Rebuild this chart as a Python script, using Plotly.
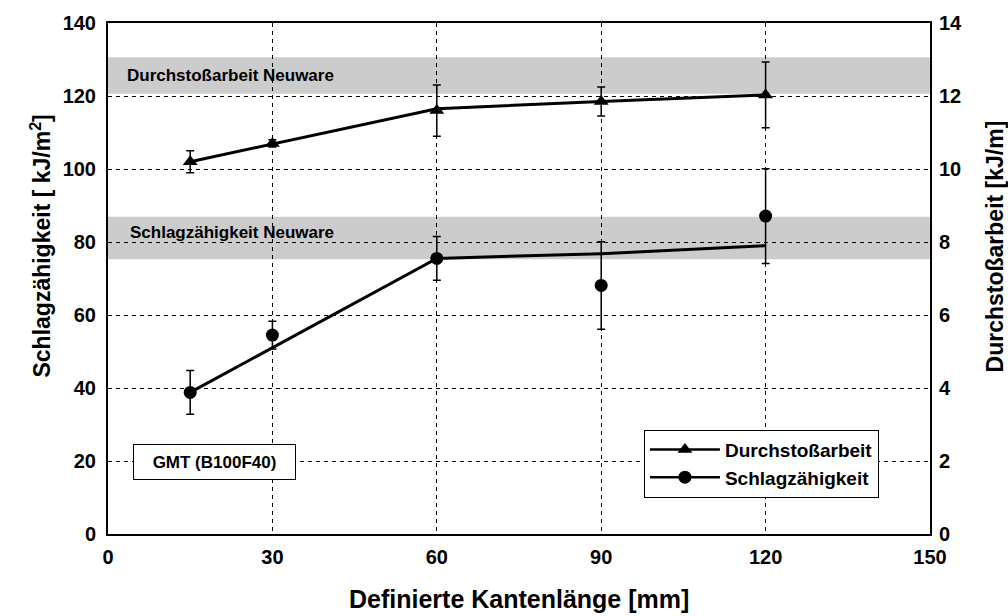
import plotly.graph_objects as go

# Edge length categories [mm]
kantenlaenge = [15, 30, 60, 90, 120]

# Impact strength [kJ/m^2] (left axis) with scatter
schlag_mittel = [38.8, 54.5, 75.5, 68.1, 87.1]
schlag_fehler = [6.0, 3.8, 6.0, 12.0, 13.0]
schlag_trend = [38.8, 51.0, 75.5, 76.8, 79.0]

# Puncture energy [kJ/m] (right axis) with scatter
durchstoss_mittel = [10.2, 10.7, 11.6, 11.85, 12.03]
durchstoss_fehler = [0.3, 0.1, 0.7, 0.4, 0.9]
durchstoss_trend = [10.2, 10.68, 11.65, 11.85, 12.03]

# Reference ranges for virgin material (in left-axis units)
band_durchstoss = [120.6, 130.6]
band_schlag = [75.3, 86.9]

x_ticks = [0, 30, 60, 90, 120, 150]
y_ticks = [0, 20, 40, 60, 80, 100, 120, 140]
y2_ticks = [0, 2, 4, 6, 8, 10, 12, 14]

FONT = "Liberation Sans"
BLACK = "#000000"

fig = go.Figure()

# Trend lines
fig.add_trace(go.Scatter(
    x=kantenlaenge, y=schlag_trend, mode="lines",
    line=dict(color=BLACK, width=3), showlegend=False, hoverinfo="skip",
))
fig.add_trace(go.Scatter(
    x=kantenlaenge, y=durchstoss_trend, mode="lines", yaxis="y2",
    line=dict(color=BLACK, width=3), showlegend=False, hoverinfo="skip",
))

# Measured points with error bars
fig.add_trace(go.Scatter(
    x=kantenlaenge, y=schlag_mittel, mode="markers",
    marker=dict(symbol="circle", size=13, color=BLACK),
    error_y=dict(type="data", array=schlag_fehler, color=BLACK, thickness=1.5, width=4),
    showlegend=False,
))
fig.add_trace(go.Scatter(
    x=kantenlaenge, y=durchstoss_mittel, mode="markers", yaxis="y2",
    marker=dict(symbol="triangle-up", size=13, color=BLACK),
    error_y=dict(type="data", array=durchstoss_fehler, color=BLACK, thickness=1.5, width=4),
    showlegend=False,
))

# Legend entries (line + marker)
fig.add_trace(go.Scatter(
    x=[None], y=[None], mode="lines+markers", name="Durchstoßarbeit",
    line=dict(color=BLACK, width=2.5),
    marker=dict(symbol="triangle-up", size=13, color=BLACK),
))
fig.add_trace(go.Scatter(
    x=[None], y=[None], mode="lines+markers", name="Schlagzähigkeit",
    line=dict(color=BLACK, width=2.5),
    marker=dict(symbol="circle", size=13, color=BLACK),
))

# Grey reference bands
for lo, hi in (band_durchstoss, band_schlag):
    fig.add_shape(
        type="rect", xref="paper", yref="y", x0=0, x1=1, y0=lo, y1=hi,
        fillcolor="#cccccc", line=dict(width=0), layer="below",
    )

bold = dict(family=FONT, color=BLACK, weight="bold")

annotations = [
    dict(text="Durchstoßarbeit Neuware", x=3.1, y=125.7, xref="x", yref="y",
         xanchor="left", yanchor="middle", showarrow=False,
         font=dict(bold, size=17)),
    dict(text="Schlagzähigkeit Neuware", x=3.6, y=82.5, xref="x", yref="y",
         xanchor="left", yanchor="middle", showarrow=False,
         font=dict(bold, size=17)),
    dict(text="GMT (B100F40)", x=19.5, y=19.7, xref="x", yref="y",
         xanchor="center", yanchor="middle", showarrow=False,
         width=151, height=24, borderpad=5, bgcolor="white",
         bordercolor=BLACK, borderwidth=1, font=dict(bold, size=17)),
    dict(text="Schlagzähigkeit [ kJ/m<sup>2</sup>]", x=-0.0827, y=0.5626,
         xref="paper", yref="paper", textangle=-90, showarrow=False,
         xanchor="center", yanchor="middle", font=dict(bold, size=23)),
    dict(text="Durchstoßarbeit [kJ/m]", x=1.079, y=0.5626,
         xref="paper", yref="paper", textangle=-90, showarrow=False,
         xanchor="center", yanchor="middle", font=dict(bold, size=23)),
    dict(text="Definierte Kantenlänge [mm]", x=0.5, y=-0.127,
         xref="paper", yref="paper", showarrow=False,
         xanchor="center", yanchor="middle", font=dict(bold, size=25)),
]

grid = dict(showgrid=True, gridcolor=BLACK, gridwidth=1, griddash="4px,4px")

fig.update_layout(
    width=1008, height=616,
    margin=dict(l=108, r=78, t=15, b=82),
    paper_bgcolor="white", plot_bgcolor="white",
    font=dict(family=FONT, color=BLACK),
    xaxis=dict(
        range=[0, 150], tickvals=x_ticks, ticktext=[str(v) for v in x_ticks],
        showline=True, linecolor=BLACK, linewidth=2, mirror=True,
        zeroline=False, ticks="", ticklabelstandoff=4,
        tickfont=dict(bold, size=20), **grid,
    ),
    yaxis=dict(
        range=[0, 140], tickvals=y_ticks, ticktext=[str(v) for v in y_ticks],
        showline=True, linecolor=BLACK, linewidth=2, mirror=True,
        zeroline=False, ticks="", ticklabelstandoff=6,
        tickfont=dict(bold, size=20), **grid,
    ),
    yaxis2=dict(
        range=[0, 14], tickvals=y2_ticks, ticktext=[str(v) for v in y2_ticks],
        overlaying="y", side="right", showgrid=False, showline=False,
        zeroline=False, ticks="", ticklabelstandoff=8,
        tickfont=dict(bold, size=20),
    ),
    legend=dict(
        x=0.652, y=0.2043, xanchor="left", yanchor="top",
        bgcolor="white", bordercolor=BLACK, borderwidth=1,
        font=dict(bold, size=19), itemwidth=70,
        tracegroupgap=0,
    ),
    annotations=annotations,
    showlegend=True,
)

fig.write_html("out.html")
